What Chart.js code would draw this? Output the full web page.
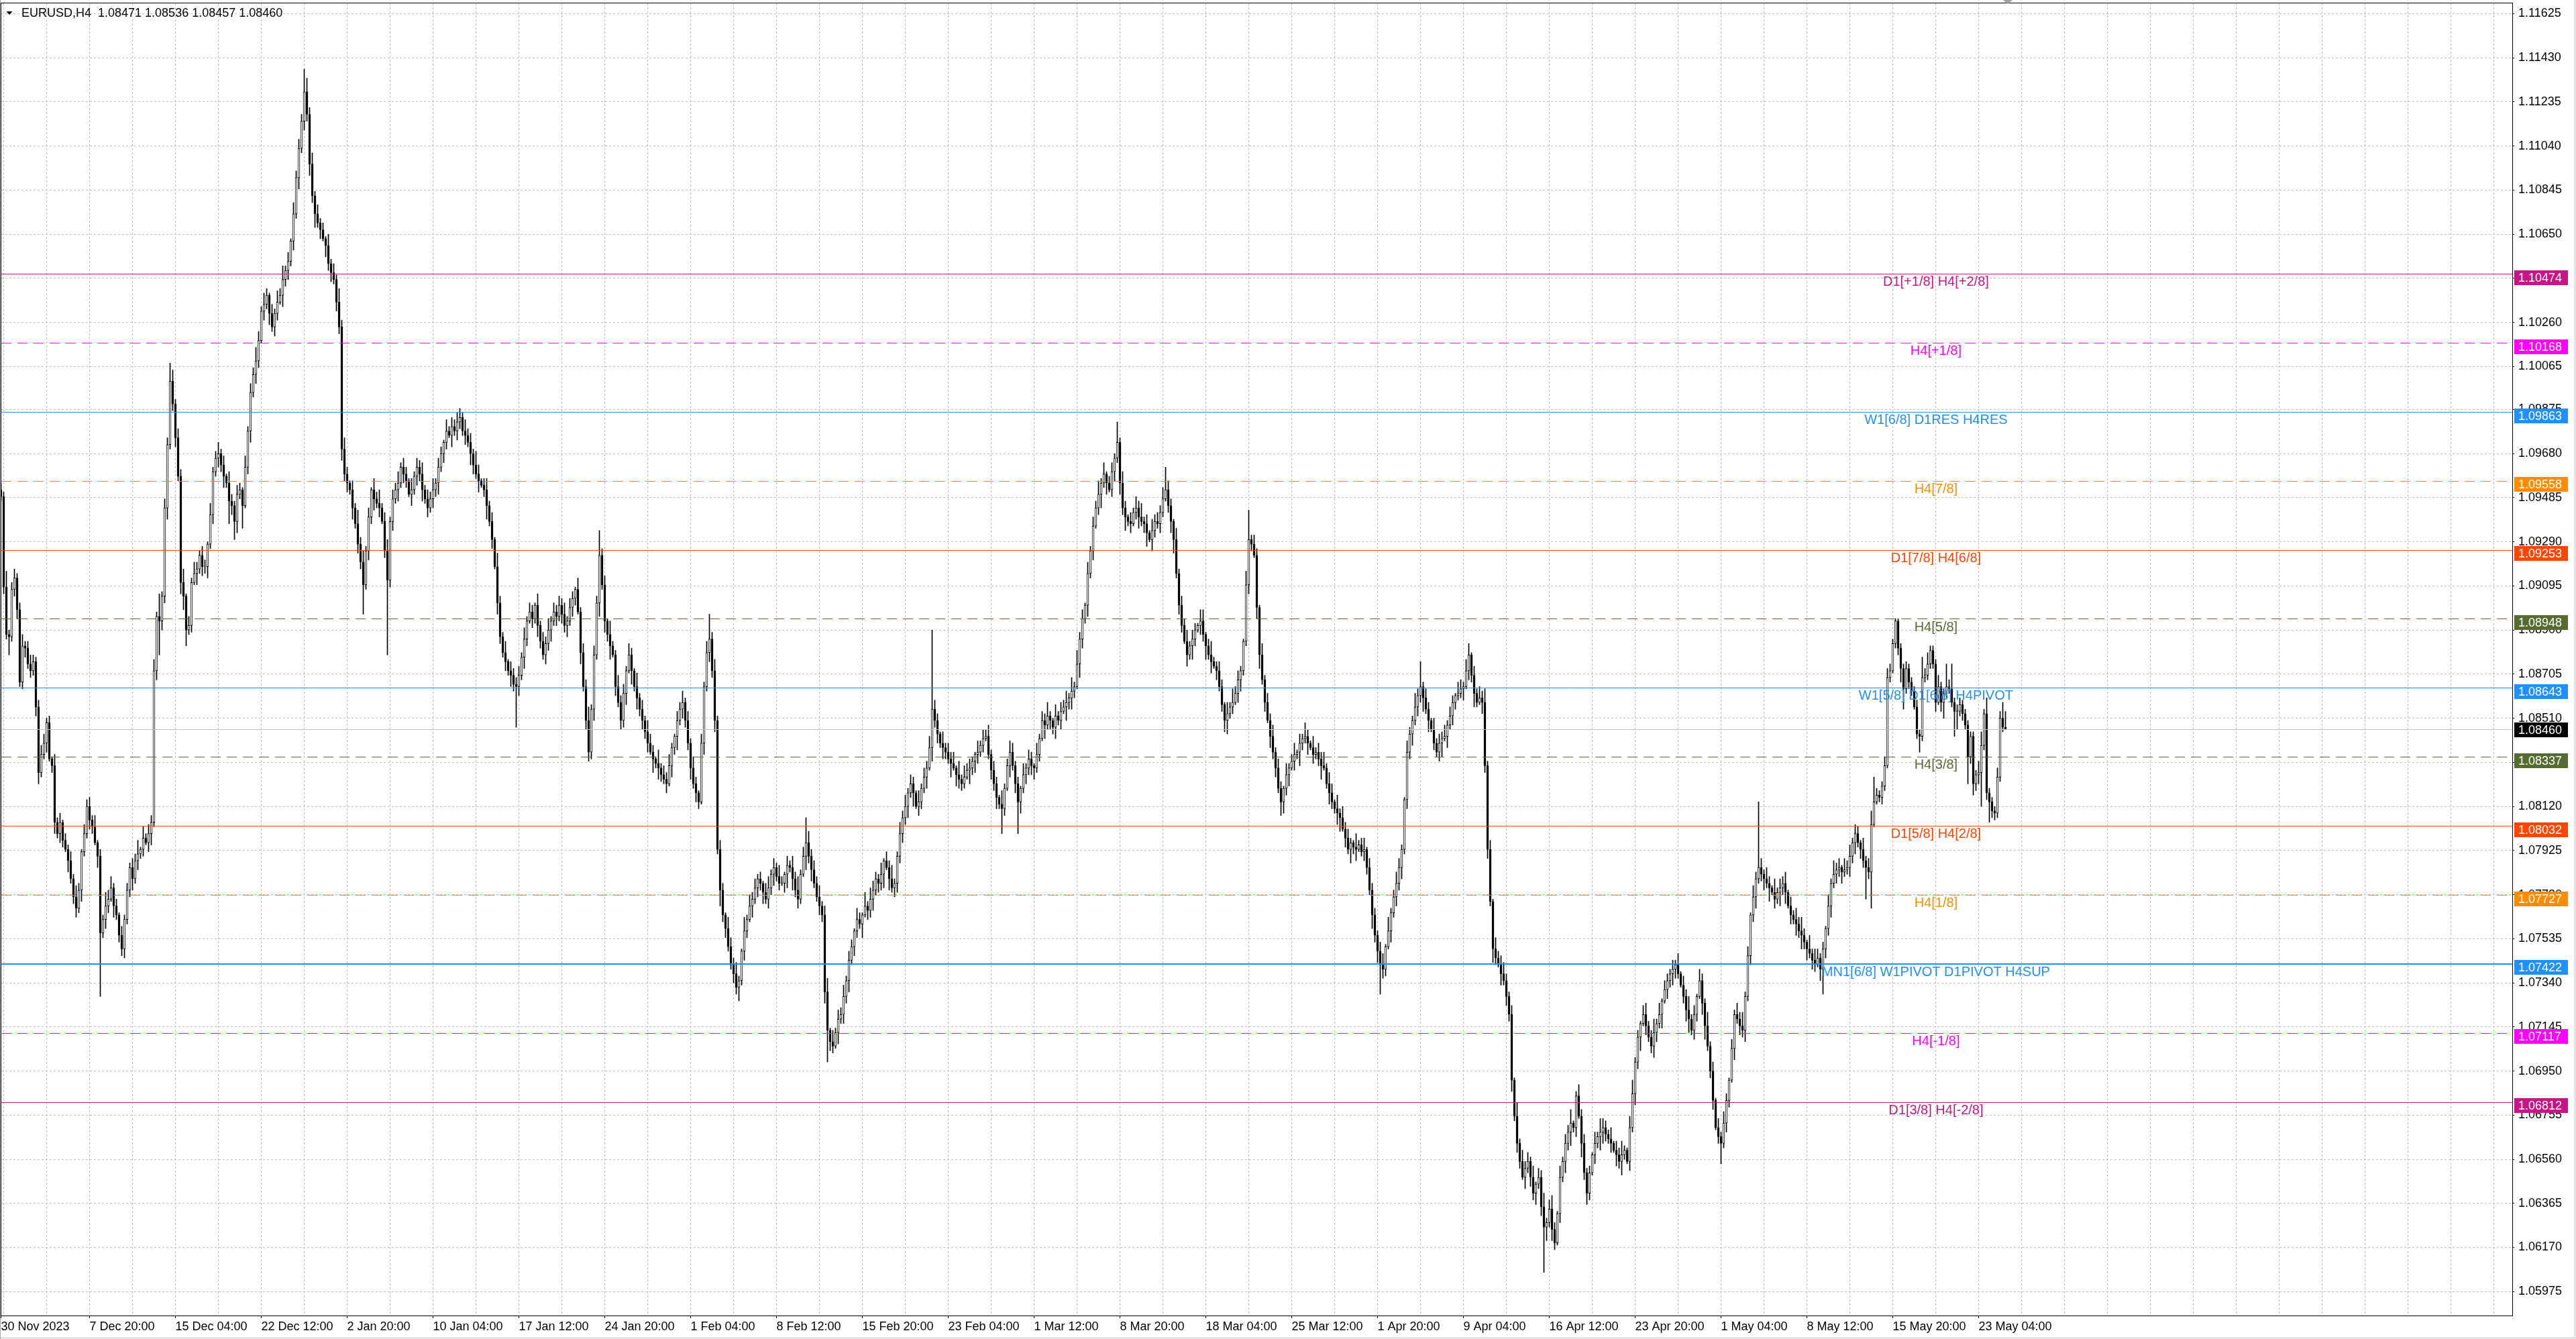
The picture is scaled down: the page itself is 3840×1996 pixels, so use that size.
<!DOCTYPE html>
<html>
<head>
<meta charset="utf-8">
<script src="https://cdn.jsdelivr.net/npm/chart.js@4.4.1/dist/chart.umd.min.js"></script>
<style>
  html, body { margin: 0; padding: 0; background: #fff; overflow: hidden; }
  canvas { display: block; }
</style>
</head>
<body>
<canvas id="chart" width="3840" height="1996"></canvas>
<script>
// EURUSD H4, 30 Nov 2023 08:00 .. 24 May 2024 20:00
// prices are kept in pips above 1.0500, open of each bar = previous close
const firstOpen = 452;
const closes = [
  449,409,388,387,408,413,399,367,383,382,375,372,376,356,327,335,
  340,349,333,330,305,300,305,297,293,288,280,272,267,275,292,300,
  312,306,303,296,290,256,262,268,271,276,268,264,255,249,262,275,
  285,280,288,291,293,298,296,300,305,372,396,394,405,444,472,500,
  490,475,458,411,405,390,392,411,415,417,423,418,418,428,441,460,
  466,468,463,458,455,447,445,438,450,452,445,462,478,495,503,509,
  518,531,534,538,530,524,530,535,538,545,549,553,562,574,590,603,
  615,628,618,596,582,574,570,567,563,560,552,548,545,535,524,470,
  459,455,452,444,437,428,420,410,425,440,452,448,446,444,438,425,
  412,438,448,452,455,462,459,456,450,452,458,462,459,452,448,444,
  448,452,455,462,468,473,478,476,480,478,482,484,478,476,473,468,
  463,459,456,454,452,445,438,430,418,402,387,380,376,372,370,366,
  365,370,378,386,394,398,395,401,392,385,379,384,390,394,398,396,
  401,397,392,394,400,404,408,398,380,365,350,336,355,379,402,423,
  410,394,388,383,379,365,358,350,362,372,379,372,365,360,355,350,
  345,340,336,333,331,329,326,324,322,330,338,343,350,355,358,350,
  340,329,322,318,314,340,365,380,386,372,350,293,275,264,258,250,
  242,238,232,235,248,257,262,268,271,276,280,278,274,271,276,282,
  285,281,278,278,282,286,285,280,275,271,282,290,296,290,284,278,
  272,268,264,230,213,208,206,212,218,220,228,235,244,250,257,262,
  260,264,268,266,271,275,280,278,282,288,285,280,276,278,290,300,
  307,312,318,322,318,312,314,320,325,329,338,355,350,344,340,338,
  336,333,331,329,326,324,322,325,328,329,332,335,336,339,342,343,
  335,328,322,316,313,311,320,330,336,330,322,314,320,326,329,333,
  330,329,335,342,350,348,352,350,347,352,350,354,356,358,360,363,
  365,375,386,395,401,415,425,436,444,450,455,459,455,452,460,466,
  473,455,444,440,438,437,442,444,440,438,437,433,430,434,438,437,
  442,448,452,445,438,430,415,401,392,385,379,383,386,390,392,394,
  388,383,379,376,374,372,365,357,350,353,356,358,362,368,372,385,
  410,430,428,423,400,379,368,358,350,343,336,329,320,314,320,326,
  329,332,335,336,340,342,343,340,338,335,336,333,330,329,322,318,
  314,311,309,307,302,298,293,296,294,293,295,292,293,285,275,264,
  255,248,242,240,250,257,265,272,278,285,293,315,336,344,350,356,
  361,365,360,355,350,346,340,336,340,342,343,348,352,358,361,362,
  364,365,372,379,370,362,358,360,358,330,293,270,249,245,242,238,
  235,228,220,191,175,163,155,148,152,155,148,141,145,148,135,126,
  128,134,125,119,132,148,155,163,168,172,170,184,175,163,150,141,
  150,158,163,166,168,170,167,165,163,160,158,155,158,160,155,170,
  185,199,210,216,220,215,210,206,212,216,220,226,231,235,238,240,
  242,238,233,228,222,218,213,220,228,235,225,215,206,195,182,170,
  166,163,172,182,191,205,220,218,215,213,228,246,264,272,280,285,
  282,280,278,276,274,271,274,276,278,274,268,264,262,260,257,255,
  252,249,247,244,242,245,240,249,258,268,278,282,284,285,283,284,
  285,290,296,300,296,293,288,285,283,304,314,317,316,321,330,369,
  372,384,394,382,373,364,373,367,363,356,344,343,369,370,375,381,
  375,358,365,358,362,365,364,358,354,354,357,353,348,334,343,322,
  326,327,339,353,318,314,310,309,325,351,347,346
];
// wick length above / below the body in pips, one base-36 digit per bar
const upWick = [
  "3272342352343234","4231524132425314","3425132645231423","24361524352a2438",
  "5243614253243152","3524153243152436","4253142536241534","3a63524231524263",
  "5314263524153624","5243524315243524","3524315243442534","2641352416325143",
  "3425243152435243","435243152436243b","3416225342531624","2543162435214352",
  "42531425b3524315","4352162534231452","425314253624b534","3524615243524315",
  "3162543251436225","35243152435z4315","2435162534215243","5243162354231524",
  "3152436215243526","2634152436251342","9253142536241534","35a4315243524315",
  "5136224315263421","6d24315243524315","2351426315243625","4162534216235143",
  "3245162354215326","3b24315243524315","4255142536241534","5324162534251436",
  "2463152436125342","3152643251436215","6231452362514324","2514362415326241",
  "425314253624153t","4253162435142536","3162542315263415","3524315246b32244",
  "3211223222329352","22522a3b23322222","256272224377"
].join("");
const downWick = [
  "2328234234232452","2413524315234252","24315s2431523342","35242314524f4352",
  "3425672315243524","24352a4852a13524","3142524315342425","2435362415342435",
  "3425243d24352413","x342524315243524","2435243152432425","4251362415324253",
  "i425314253243524","2435243152443526","2536142435162534","3416253241536243",
  "3524315243527342","2436243152435243","5231462534216352","2435e43152435243",
  "2614352436152443","4352614325163425","3261543216354231","24352b31524e5243",
  "4523162435241635","3164252413625134","2536241352461532","4213562431526314",
  "3625142356231452","2431562415342653","5142632514236125","3256142635124326",
  "35d4315243524352","4362513246152432","2514362153426315","243524315243524k",
  "6253142536241635","3142653241536214","2536142354261435","4213562431562341",
  "3924315243524352","3526142635142536","3524315b43524352","2435243e3g112321",
  "2123692321272222","24147222b8232c35","34f239332220"
].join("");

const headerText = "EURUSD,H4  1.08471 1.08536 1.08457 1.08460";
const firstDateLabel = "30 Nov 2023";
const timeLabels = [
  "7 Dec 20:00", "15 Dec 04:00", "22 Dec 12:00", "2 Jan 20:00", "10 Jan 04:00",
  "17 Jan 12:00", "24 Jan 20:00", "1 Feb 04:00", "8 Feb 12:00", "15 Feb 20:00",
  "23 Feb 04:00", "1 Mar 12:00", "8 Mar 20:00", "18 Mar 04:00", "25 Mar 12:00",
  "1 Apr 20:00", "9 Apr 04:00", "16 Apr 12:00", "23 Apr 20:00", "1 May 04:00",
  "8 May 12:00", "15 May 20:00", "23 May 04:00"
];
const priceTicks = [
  1.05975, 1.06170, 1.06365, 1.06560, 1.06755, 1.06950, 1.07145, 1.07340,
  1.07535, 1.07730, 1.07925, 1.08120, 1.08315, 1.08510, 1.08705, 1.08900,
  1.09095, 1.09290, 1.09485, 1.09680, 1.09875, 1.10065, 1.10260, 1.10455,
  1.10650, 1.10845, 1.11040, 1.11235, 1.11430, 1.11625
];

// murrey math levels
const levelPrices = [1.10474, 1.10168, 1.09863, 1.09558, 1.09253, 1.08948, 1.08643,
  1.08337, 1.08032, 1.07727, 1.07422, 1.07117, 1.06812];
const levelNames = ["D1[+1/8] H4[+2/8]", "H4[+1/8]", "W1[6/8] D1RES H4RES", "H4[7/8]",
  "D1[7/8] H4[6/8]", "H4[5/8]", "W1[5/8] D1[6/8] H4PIVOT", "H4[3/8]", "D1[5/8] H4[2/8]",
  "H4[1/8]", "MN1[6/8] W1PIVOT D1PIVOT H4SUP", "H4[-1/8]", "D1[3/8] H4[-2/8]"];
const levelColors = ["#C71585", "#FF00FF", "#1E90FF", "#FF8C00", "#FF4500", "#556B2F", "#1E90FF",
  "#556B2F", "#FF4500", "#FF8C00", "#1E90FF", "#FF00FF", "#C71585"];
const levelDashed = [false, true, false, true, false, true, false, true, false, true, false, true, false];
const levelWidths = [1, 1, 1, 1, 1, 1, 1, 1, 1, 1, 2, 1, 1];
const lastPrice = 1.08460;

// view
const X_MIN = 0.125, X_MAX = 935.875;
const Y_MIN = 1.05869, Y_MAX = 1.11671;
const LABEL_BAR = 721.1;
const FONT = '"Liberation Sans", Arial, sans-serif';

const toPrice = p => 1.05 + p / 10000;

const wickData = [];
const bodyData = [];
const bodyFill = [];
let prev = firstOpen;
closes.forEach((c, i) => {
  const o = prev;
  const hi = Math.max(o, c) + parseInt(upWick[i] || "0", 36);
  const lo = Math.min(o, c) - parseInt(downWick[i] || "0", 36);
  wickData.push({ x: i, y: [toPrice(lo), toPrice(hi)] });
  bodyData.push({ x: i, y: [toPrice(o), toPrice(c)] });
  bodyFill.push(c >= o ? "#ffffff" : "#000000");
  prev = c;
});

const levelSets = levelPrices.map((v, k) => ({
  type: "line",
  data: [{ x: X_MIN, y: v }, { x: X_MAX, y: v }],
  borderColor: levelColors[k],
  borderWidth: levelWidths[k],
  borderDash: levelDashed[k] ? [15, 9] : [],
  pointRadius: 0,
  fill: false
}));

const xTicks = [0];
for (let v = 1; v <= 935; v += 16) xTicks.push(v);

function labelAt(v) {
  if (v === 0) return firstDateLabel;
  const k = (v - 33) / 32;
  return Number.isInteger(k) && k >= 0 && k < timeLabels.length ? timeLabels[k] : "";
}

// keep the horizontal level lines on whole pixels
const crispLines = {
  id: "crispLines",
  beforeDatasetDraw(chart, args) {
    const ds = chart.data.datasets[args.index];
    if (ds.type !== "line") return;
    const py = chart.scales.y.getPixelForValue(ds.data[0].y);
    const target = ds.borderWidth % 2 === 1 ? Math.floor(py) + 0.5 : Math.round(py);
    chart.ctx.save();
    chart.ctx.translate(0, target - py);
  },
  afterDatasetDraw(chart, args) {
    const ds = chart.data.datasets[args.index];
    if (ds.type !== "line") return;
    chart.ctx.restore();
  }
};

const levelText = {
  id: "levelText",
  afterDatasetsDraw(chart) {
    const { ctx, scales: { x, y } } = chart;
    ctx.save();
    ctx.font = "20px " + FONT;
    ctx.textAlign = "center";
    ctx.textBaseline = "middle";
    levelPrices.forEach((v, k) => {
      ctx.fillStyle = levelColors[k];
      ctx.fillText(levelNames[k], x.getPixelForValue(LABEL_BAR), y.getPixelForValue(v) + 12);
    });
    ctx.restore();
  }
};

const overlay = {
  id: "overlay",
  afterDraw(chart) {
    const { ctx, chartArea, scales: { y } } = chart;
    ctx.save();
    // price tags on the axis
    ctx.font = "18px " + FONT;
    ctx.textAlign = "left";
    ctx.textBaseline = "middle";
    const tag = (v, color, dy) => {
      const py = Math.round(y.getPixelForValue(v) + dy);
      ctx.fillStyle = color;
      ctx.fillRect(chartArea.right + 3, py - 11, 80, 22);
      ctx.fillStyle = "#ffffff";
      ctx.fillText(v.toFixed(5), chartArea.right + 9, py + 1);
    };
    levelPrices.forEach((v, k) => tag(v, levelColors[k], 5));
    tag(lastPrice, "#000000", 0);

    // frame
    ctx.strokeStyle = "#000";
    ctx.lineWidth = 1;
    ctx.strokeRect(1.5, 4.5, chartArea.right - 1, chartArea.bottom - 4);

    // window edges
    ctx.fillStyle = "#e4e4e4";
    ctx.fillRect(0, 1993, 3840, 3);
    ctx.fillRect(3837, 0, 3, 1996);
    ctx.fillStyle = "#a8a8a8";
    ctx.fillRect(0, 0, 1, 1996);

    // shift marker
    ctx.fillStyle = "#a0a0a0";
    ctx.beginPath();
    ctx.moveTo(2986, 0); ctx.lineTo(3000, 0); ctx.lineTo(2993, 6);
    ctx.closePath(); ctx.fill();

    // header
    ctx.fillStyle = "#000";
    ctx.beginPath();
    ctx.moveTo(9.5, 17); ctx.lineTo(18.5, 17); ctx.lineTo(14, 22);
    ctx.closePath(); ctx.fill();
    ctx.font = "18px " + FONT;
    ctx.textBaseline = "middle";
    ctx.fillText(headerText, 32, 20);
    ctx.restore();
  }
};

new Chart(document.getElementById("chart"), {
  type: "bar",
  data: {
    datasets: [
      ...levelSets,
      {
        type: "line",
        data: [{ x: X_MIN, y: lastPrice }, { x: X_MAX, y: lastPrice }],
        borderColor: "#c0c0c0",
        borderWidth: 1,
        pointRadius: 0,
        fill: false
      },
      {
        label: "body",
        data: bodyData,
        backgroundColor: bodyFill,
        borderColor: "#000",
        borderWidth: 1,
        borderSkipped: false,
        barThickness: 3,
        minBarLength: 1,
        grouped: false
      },
      {
        label: "wick",
        data: wickData,
        backgroundColor: "#000",
        borderWidth: 0,
        barThickness: 1,
        minBarLength: 1,
        grouped: false
      }
    ]
  },
  options: {
    responsive: false,
    animation: false,
    devicePixelRatio: 1,
    events: [],
    layout: { padding: { top: 5, left: 2, right: 0, bottom: 0 } },
    plugins: { legend: { display: false }, tooltip: { enabled: false } },
    scales: {
      x: {
        type: "linear",
        min: X_MIN,
        max: X_MAX,
        bounds: "data",
        offset: false,
        afterBuildTicks: s => { s.ticks = xTicks.map(v => ({ value: v })); },
        afterFit: s => { s.height = 35; s.paddingLeft = 0; s.paddingRight = 0; },
        ticks: {
          autoSkip: false,
          maxRotation: 0,
          minRotation: 0,
          align: "start",
          padding: 2,
          color: "#000",
          font: { family: "Liberation Sans", size: 18 },
          callback: v => labelAt(v)
        },
        grid: {
          offset: false,
          color: c => (c.tick && c.tick.value === 0) ? "rgba(0,0,0,0)" : "#c0c0c0",
          tickColor: c => (c.tick && labelAt(c.tick.value)) ? "#000" : "rgba(0,0,0,0)",
          tickLength: 4
        },
        border: { display: false, dash: [3, 3] }
      },
      y: {
        position: "right",
        min: Y_MIN,
        max: Y_MAX,
        bounds: "data",
        afterBuildTicks: s => { s.ticks = priceTicks.map(v => ({ value: v })); },
        afterFit: s => { s.width = 95; s.paddingTop = 0; s.paddingBottom = 0; },
        ticks: {
          autoSkip: false,
          padding: 6,
          color: "#000",
          font: { family: "Liberation Sans", size: 18 },
          callback: v => Number(v).toFixed(5)
        },
        grid: { color: "#c0c0c0", tickColor: "#000", tickLength: 3 },
        border: { display: false, dash: [3, 3] }
      }
    }
  },
  plugins: [crispLines, levelText, overlay]
});
</script>
</body>
</html>
